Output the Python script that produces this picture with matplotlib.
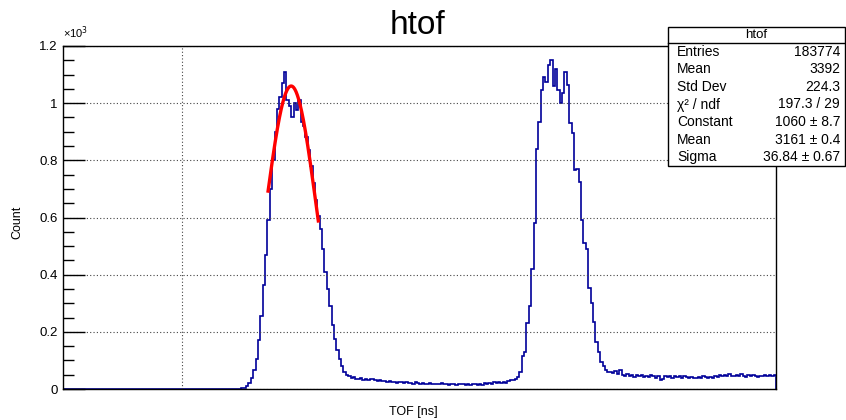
import numpy as np
import matplotlib
matplotlib.use("Agg")
import matplotlib.pyplot as plt
from matplotlib.patches import Rectangle
from matplotlib.lines import Line2D
from matplotlib.ticker import MultipleLocator, FuncFormatter

plt.rcParams['font.family'] = ['Liberation Sans', 'DejaVu Sans']

# ---- data ----
x_min, x_max = 2825.0, 3875.0
bin_width = 3.5
counts_lead = [0] * 75
counts_peak1 = [2, 5, 12, 20, 38, 65, 105, 170, 255, 365, 470, 590, 700, 800, 900,
                980, 1020, 1070, 1110, 1010, 990, 950, 1000, 975, 1010, 935, 920, 880,
                835, 780, 720, 660, 605, 560, 490, 410, 350, 290, 225, 175, 135, 105,
                80, 60, 48]
counts_gap = [45, 40, 42, 36, 34, 37, 33, 35, 31, 34, 36, 30, 28, 31, 27, 29, 25, 27,
              24, 26, 22, 25, 23, 21, 24, 20, 22, 19, 23, 20, 18, 21, 19, 17, 20, 18,
              16, 19, 17, 20, 16, 18, 15, 19, 17, 14, 18, 16, 19, 15, 17, 14, 18, 16,
              13, 17, 15, 20, 16, 22, 19, 24, 21, 26]
counts_peak2 = [20, 24, 22, 28, 30, 33, 36, 42, 58, 115, 130, 230, 290, 420, 580, 840,
                935, 1045, 1090, 1075, 1135, 1150, 1060, 1120, 1045, 1000, 1035, 1110,
                1065, 930, 895, 765, 770, 725, 590, 510, 490, 355, 300, 235, 165, 130,
                95, 80, 68, 60]
counts_tail = [58, 55, 62, 52, 66, 50, 47, 52, 44, 49, 42, 50, 45, 48, 41, 46, 43, 49,
               44, 38, 46, 32, 36, 44, 41, 45, 40, 47, 42, 44, 39, 45, 41, 38, 43, 40,
               37, 42, 39, 44, 41, 38, 43, 40, 45, 42, 48, 44, 50, 46, 52, 47, 44, 49,
               45, 51, 46, 43, 48, 44, 50, 46, 42, 47, 45, 49, 44, 48, 46, 50]
counts = np.array(counts_lead + counts_peak1 + counts_gap + counts_peak2 + counts_tail, dtype=float)

fit_constant, fit_mean, fit_sigma = 1060.0, 3161.0, 36.84
fit_range = (3127.0, 3201.0)

stats_title = "htof"
stats_names = ["Entries", "Mean", "Std Dev", "\u03c7\u00b2 / ndf", "Constant", "Mean", "Sigma"]
stats_values = ["183774", "3392", "224.3", "197.3 / 29", "1060 \u00b1 8.7", "3161 \u00b1 0.4", "36.84 \u00b1 0.67"]

y_ticks = [0, 200, 400, 600, 800, 1000, 1200]

# ---- figure ----
W, H = 846, 420
fig = plt.figure(figsize=(W / 100, H / 100), dpi=100)
L, R, T, B = 63, 776, 46, 389
ax = fig.add_axes([L / W, (H - B) / H, (R - L) / W, (B - T) / H])

edges = x_min + bin_width * np.arange(len(counts) + 1)
ax.stairs(counts, edges, color='#000099', linewidth=1.2)

xf = np.linspace(fit_range[0], fit_range[1], 200)
ax.plot(xf, fit_constant * np.exp(-0.5 * ((xf - fit_mean) / fit_sigma) ** 2),
        color='#ff0000', linewidth=2.4)

ax.set_xlim(x_min, x_max)
ax.set_ylim(0, 1200)

ax.set_yticks(y_ticks)
ax.yaxis.set_major_formatter(FuncFormatter(lambda v, p: f"{v/1000:g}"))
ax.yaxis.set_minor_locator(MultipleLocator(50))
ax.tick_params(axis='y', which='major', direction='in', length=16, width=1.0,
               labelsize=9.5, pad=4, right=False)
ax.tick_params(axis='y', which='minor', direction='in', length=8, width=1.0, right=False)
ax.set_xticks([3000])
ax.tick_params(axis='x', which='both', length=0, labelbottom=False)

ax.grid(True, which='major', linestyle=(0, (1, 2)), color='#444444', linewidth=0.8)
for s in ax.spines.values():
    s.set_linewidth(1.0)
    s.set_color('black')

fig.text(L / W, 1 - 38 / H, "\u00d710$^{3}$", fontsize=8, ha='left', va='baseline')
fig.text(417 / W, 1 - 26 / H, "htof", fontsize=24, ha='center', va='center')
fig.text(17 / W, 1 - 222 / H, "Count", fontsize=9, rotation=90, ha='center', va='center')
fig.text(413 / W, 1 - 412 / H, "TOF [ns]", fontsize=9, ha='center', va='center')

# stats box
bx0, bx1, by0, by1 = 668, 845, 27, 166
fig.patches.append(Rectangle((bx0 / W, 1 - by1 / H), (bx1 - bx0) / W, (by1 - by0) / H,
                             transform=fig.transFigure, facecolor='white',
                             edgecolor='black', linewidth=1.0, zorder=5))
hdr = 43
fig.lines.append(Line2D([bx0 / W, bx1 / W], [1 - hdr / H, 1 - hdr / H],
                        transform=fig.transFigure, color='black', linewidth=1.0, zorder=6))
fig.text((bx0 + bx1) / 2 / W, 1 - (by0 + hdr) / 2 / H, stats_title, fontsize=9.5,
         ha='center', va='center', zorder=7)
row_h = (by1 - hdr) / len(stats_names)
for i, (n, v) in enumerate(zip(stats_names, stats_values)):
    yc = hdr + row_h * (i + 0.5)
    fig.text((bx0 + 9) / W, 1 - yc / H, n, fontsize=10, ha='left', va='center', zorder=7)
    fig.text((bx1 - 5) / W, 1 - yc / H, v, fontsize=10, ha='right', va='center', zorder=7)

fig.savefig("out.png", dpi=100)
